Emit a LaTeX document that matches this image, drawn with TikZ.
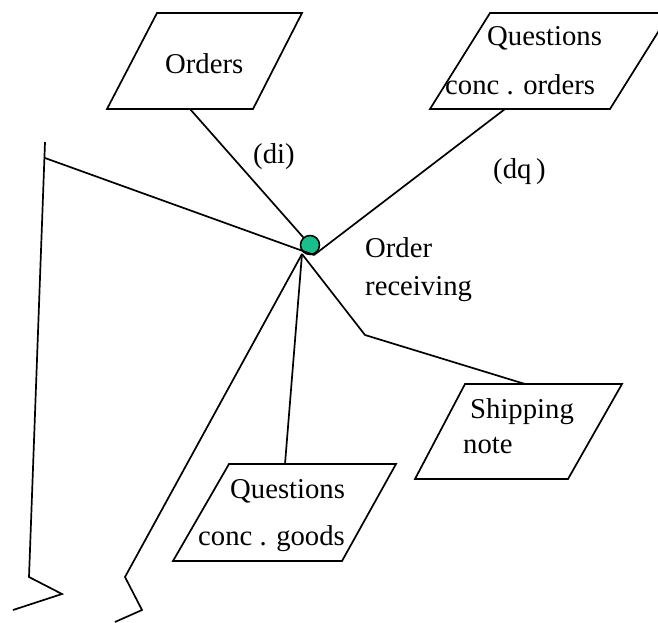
\documentclass[tikz,border=0pt]{standalone}
\usepackage{fontspec}
\setmainfont{Liberation Serif}
\begin{document}
\begin{tikzpicture}[x=1pt,y=-1pt,
  edge/.style={line width=1.7pt,line join=miter},
  storebox/.style={line width=1.7pt},
  lbl/.style={anchor=base west,inner sep=0pt,font=\fontsize{28.7}{30}\selectfont},
  hub/.style={circle,draw,line width=1.5pt,fill={rgb,255:red,26;green,190;blue,140},minimum size=19pt,inner sep=0pt}]
\useasboundingbox (0,0) rectangle (658,623);
\begin{scope}
\clip (0,0) rectangle (658,623);
% data stores drawn as parallelograms
\draw[storebox] (157,13) -- (302,13) -- (253,109) -- (107,109) -- cycle;
\draw[storebox] (490,13) -- (670,13) -- (610,109) -- (430,109) -- cycle;
\draw[storebox] (465,384) -- (622,384) -- (568,479) -- (415,479) -- cycle;
\draw[storebox] (229,464) -- (396,464) -- (342,561) -- (173,561) -- cycle;
\end{scope}
% attachment points
\coordinate (ordersB) at (190,109);
\coordinate (qordersB) at (505,109);
\coordinate (shipT) at (525,384);
\coordinate (qgoodsT) at (285,464);
\coordinate (bendS) at (365,335);
\coordinate (leftJ) at (45,158);
\coordinate (leftTop) at (45,142);
\coordinate (leftA) at (29,577);
\coordinate (leftB) at (62,594);
\coordinate (leftC) at (13,610);
\coordinate (midA) at (125,577);
\coordinate (midB) at (142,610);
\coordinate (midC) at (115,622);
\coordinate (foot) at (302,254);
\coordinate (rfoot) at (314,255);
% process point
\node[hub] (hub) at (310,245) {};
% connectors
\draw[edge] (ordersB) -- (hub);
\draw[edge] (qordersB) -- (rfoot);
\draw[edge] (leftJ) -- (rfoot);
\draw[edge] (foot) -- (qgoodsT);
\draw[edge] (foot) -- (bendS) -- (shipT);
\draw[edge] (foot) -- (midA) -- (midB) -- (midC);
\draw[edge] (leftTop) -- (leftA) -- (leftB) -- (leftC);
% labels
\node[lbl] (tOrders) at (165,74) {Orders};
\node[lbl] (tQo1) at (487,46) {Questions};
\node[lbl] (tQo2) at (445,95) {conc . orders};
\node[lbl] (tDi) at (253,163) {(di)};
\node[lbl] (tDq) at (493,178) {(dq\,)};
\node[lbl] (tOr1) at (365,257) {Order};
\node[lbl] (tOr2) at (365,295) {receiving};
\node[lbl] (tSh1) at (470,418) {Shipping};
\node[lbl] (tSh2) at (463,453) {note};
\node[lbl] (tQg1) at (230,498) {Questions};
\node[lbl] (tQg2) at (198,545) {conc . goods};
\end{tikzpicture}
\end{document}
